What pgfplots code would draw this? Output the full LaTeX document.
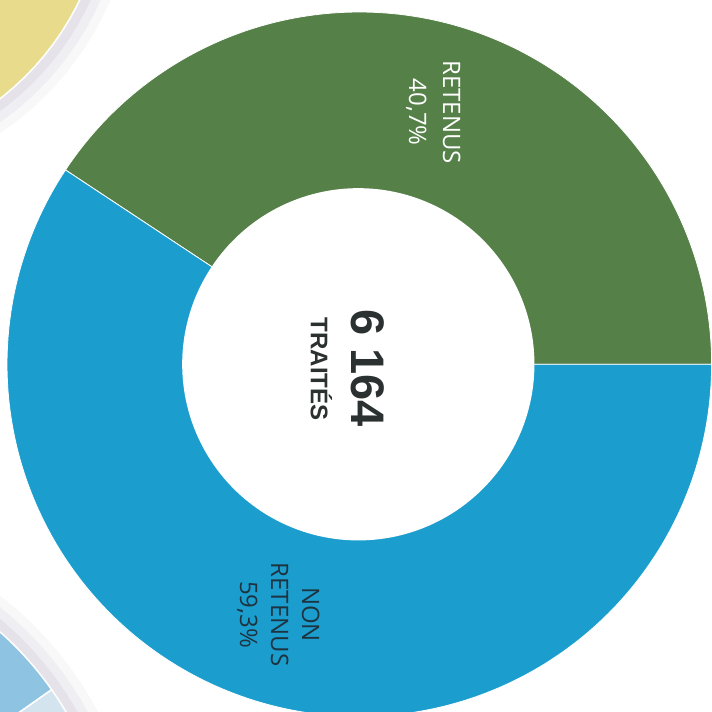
\documentclass[border=0pt]{standalone}
\usepackage{pgfplots}
\pgfplotsset{compat=1.18}
\usepackage{pgfplotstable}
\usepackage{fontspec}
\setmainfont{Open Sans}
\newfontfamily\boldfont{Liberation Sans}
\definecolor{cgreen}{HTML}{558048}
\definecolor{cblue}{HTML}{1B9ECE}
\definecolor{cyellow}{HTML}{E8DC8C}
\definecolor{clblue}{HTML}{8EC4E2}
\definecolor{cvlblue}{HTML}{D3E4EE}
\definecolor{ctext}{HTML}{1E3340}
\definecolor{cdark}{HTML}{2B3030}
\definecolor{cshadow}{HTML}{DCDAE2}

\pgfplotstableread{
label value
Retenus 40.7
NonRetenus 59.3
}\donutdata
\pgfplotstablegetelem{0}{value}\of\donutdata
\pgfmathsetmacro{\angA}{\pgfplotsretval*3.6}

\begin{document}
\begin{tikzpicture}
\begin{axis}[scale only axis, width=712pt, height=711pt,
  xmin=0, xmax=712, ymin=0, ymax=711, hide axis, clip=true]
% neighbouring charts (corners), with soft shadows
\addplot[fill=cshadow!20, draw=none, domain=0:360, samples=120, variable=\t] ({-170+305*cos(t)},{831+305*sin(t)}) -- cycle;
\addplot[fill=cshadow!45, draw=none, domain=0:360, samples=120, variable=\t] ({-170+296*cos(t)},{831+296*sin(t)}) -- cycle;
\addplot[fill=cshadow!75, draw=none, domain=0:360, samples=120, variable=\t] ({-170+287*cos(t)},{831+287*sin(t)}) -- cycle;
\addplot[fill=cyellow, draw=white, line width=1.5pt, domain=0:360, samples=120, variable=\t] ({-170+277*cos(t)},{831+277*sin(t)}) -- cycle;
\addplot[fill=cshadow!20, draw=none, domain=0:360, samples=120, variable=\t] ({-220+360*cos(t)},{-169+360*sin(t)}) -- cycle;
\addplot[fill=cshadow!45, draw=none, domain=0:360, samples=120, variable=\t] ({-220+351*cos(t)},{-169+351*sin(t)}) -- cycle;
\addplot[fill=cshadow!75, draw=none, domain=0:360, samples=120, variable=\t] ({-220+342*cos(t)},{-169+342*sin(t)}) -- cycle;
\addplot[fill=clblue, draw=white, line width=1.5pt, domain=35.1:100, samples=60, variable=\t] ({-220+332*cos(t)},{-169+332*sin(t)}) -- (axis cs:-220,-169) -- cycle;
\addplot[fill=cvlblue, draw=white, line width=1.5pt, domain=20:35.1, samples=30, variable=\t] ({-220+332*cos(t)},{-169+332*sin(t)}) -- (axis cs:-220,-169) -- cycle;
% donut
\addplot[fill=cgreen, draw=white, line width=0.8pt, domain=0:\angA, samples=150, variable=\t] ({359+352*cos(t)},{347+352*sin(t)}) -- (axis cs:359,347) -- cycle;
\addplot[fill=cblue, draw=white, line width=0.8pt, domain=\angA:360, samples=200, variable=\t] ({359+352*cos(t)},{347+352*sin(t)}) -- (axis cs:359,347) -- cycle;
\addplot[fill=white, draw=none, domain=0:360, samples=200, variable=\t] ({358+176*cos(t)},{347+176*sin(t)}) -- cycle;
% labels
\node[rotate=-90, align=center, text=white, font=\fontsize{24}{34}\selectfont] at (axis cs:433,599) {RETENUS\\40,7\%};
\node[rotate=-90, align=center, text=ctext, font=\fontsize{24}{31}\selectfont] at (axis cs:278,97) {NON\\RETENUS\\59,3\%};
\node[rotate=-90, text=cdark, font=\boldfont\bfseries\fontsize{47}{50}\selectfont] at (axis cs:367,343) {6 164};
\node[rotate=-90, text=cdark, font=\boldfont\bfseries\fontsize{24}{28}\selectfont] at (axis cs:321,342) {TRAITÉS};
\end{axis}
\end{tikzpicture}
\end{document}
